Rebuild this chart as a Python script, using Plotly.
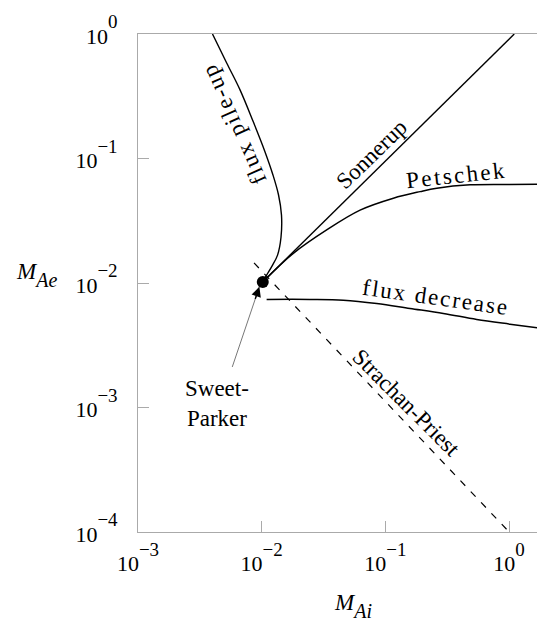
import numpy as np
import plotly.graph_objects as go

# ---- data (log-log) ----
pileup_x = [0.0040, 0.00521, 0.00668, 0.00855, 0.01064, 0.01233, 0.01368, 0.01445, 0.01432, 0.01343, 0.01211, 0.01096, 0.01019]
pileup_y = [1.0, 0.585, 0.356, 0.197, 0.113, 0.0738, 0.0509, 0.0351, 0.0233, 0.01675, 0.01368, 0.01159, 0.01023]

sonnerup_x = [0.0102, 1.10]
sonnerup_y = [0.0102, 1.0]

petschek_x = [0.0102, 0.0180, 0.0335, 0.0624, 0.116, 0.1905, 0.260, 0.483, 1.0, 1.95]
petschek_y = [0.0102, 0.0173, 0.0267, 0.0385, 0.0480, 0.0542, 0.0577, 0.0614, 0.0619, 0.0621]

decrease_x = [0.01096, 0.02455, 0.0457, 0.0851, 0.158, 0.294, 0.547, 1.016, 1.95]
decrease_y = [0.00738, 0.00738, 0.00728, 0.00685, 0.00625, 0.00570, 0.00509, 0.00467, 0.00429]

strachan_x = [0.00867, 1.0]
strachan_y = [0.01449, 1.0e-4]

sweet_parker_x = [0.0102]
sweet_parker_y = [0.0102]

x_tick_exps = [-3, -2, -1, 0]
y_tick_exps = [-4, -3, -2, -1, 0]

FONT = "Liberation Serif"
AXC = "#aaaaaa"


def power_label(k):
    s = "\u2212" + str(-k) if k < 0 else str(k)
    return "10<sup><sup><span style='font-size:19px'>" + s + "</span></sup></sup>"


fig = go.Figure()
line = dict(color="black", width=1.4)
fig.add_trace(go.Scatter(x=pileup_x, y=pileup_y, mode="lines", line=dict(color="black", width=1.4, shape="spline", smoothing=1.0)))
fig.add_trace(go.Scatter(x=sonnerup_x, y=sonnerup_y, mode="lines", line=line))
fig.add_trace(go.Scatter(x=petschek_x, y=petschek_y, mode="lines", line=dict(color="black", width=1.5, shape="spline", smoothing=1.0)))
fig.add_trace(go.Scatter(x=decrease_x, y=decrease_y, mode="lines", line=dict(color="black", width=1.5, shape="spline", smoothing=1.0)))
fig.add_trace(go.Scatter(x=strachan_x, y=strachan_y, mode="lines", line=dict(color="black", width=1.2, dash="7px,8px")))
fig.add_trace(go.Scatter(x=sweet_parker_x, y=sweet_parker_y, mode="markers", marker=dict(color="black", size=12)))

L = np.log10


def label(text, xv, yv, angle, size=23):
    fig.add_annotation(x=L(xv), y=L(yv), xref="x", yref="y", text=text, showarrow=False,
                       textangle=angle, font=dict(family=FONT, size=size, color="black"),
                       xanchor="center", yanchor="middle")


label("<span style='letter-spacing:1.8px'>flux pile-up</span>", 0.00597, 0.190, -114)
label("Sonnerup", 0.0773, 0.107, -44)
label("<span style='letter-spacing:2.4px'>Petschek</span>", 0.3724, 0.0724, -6)
label("<span style='letter-spacing:2px'>flux decrease</span>", 0.2564, 0.0077, 8)
label("Strachan-Priest", 0.1468, 0.00110, 45)
label("Sweet-<br>Parker", 0.00435, 0.00108, 0)

# arrow from Sweet-Parker label to the point
tip_x, tip_y = L(0.00957), L(0.00931)
fig.add_annotation(x=tip_x, y=tip_y, xref="x", yref="y", text="", showarrow=True,
                   ax=-27.6, ay=81.6, arrowhead=0, arrowwidth=1, arrowcolor="#777777")
fig.add_annotation(x=tip_x, y=tip_y, xref="x", yref="y", text="", showarrow=True,
                   ax=-4.6, ay=13.5, arrowhead=2, arrowsize=1.3, arrowwidth=1.5, arrowcolor="black")

# axis titles
fig.add_annotation(x=-0.2494, y=0.517, xref="paper", yref="paper", showarrow=False,
                   xanchor="center", yanchor="middle",
                   text="<i>M<sub><sub><span style='font-size:20px'>Ae</span></sub></sub></i>",
                   font=dict(family=FONT, size=23, color="black"))
fig.add_annotation(x=0.528, y=-0.1486, xref="paper", yref="paper", showarrow=False,
                   xanchor="center", yanchor="middle",
                   text="<i>M<sub><sub><span style='font-size:20px'>Ai</span></sub></sub></i>",
                   font=dict(family=FONT, size=23, color="black"))

fig.update_xaxes(type="log", range=[-3, 0.29], showgrid=False, zeroline=False, automargin=False,
                 showline=True, linecolor=AXC, linewidth=1, mirror=True,
                 ticks="inside", ticklen=11, tickcolor=AXC, tickwidth=1,
                 tickvals=[10.0 ** k for k in x_tick_exps], ticktext=[power_label(k) for k in x_tick_exps],
                 tickfont=dict(family=FONT, size=22, color="black"), ticklabelstandoff=12)
fig.update_yaxes(type="log", range=[-4, 0], showgrid=False, zeroline=False, automargin=False,
                 showline=True, linecolor=AXC, linewidth=1,
                 ticks="inside", ticklen=11, tickcolor=AXC, tickwidth=1,
                 tickvals=[10.0 ** k for k in y_tick_exps], ticktext=[power_label(k) for k in y_tick_exps],
                 tickfont=dict(family=FONT, size=22, color="black"), ticklabelstandoff=15,
                 ticklabelshift=2)

# page body has an 8px margin, so the figure is offset by 8px
fig.update_layout(width=537, height=614, margin=dict(l=130, r=0, t=26, b=90),
                  paper_bgcolor="white", plot_bgcolor="white", showlegend=False)

fig.write_html("out.html")
